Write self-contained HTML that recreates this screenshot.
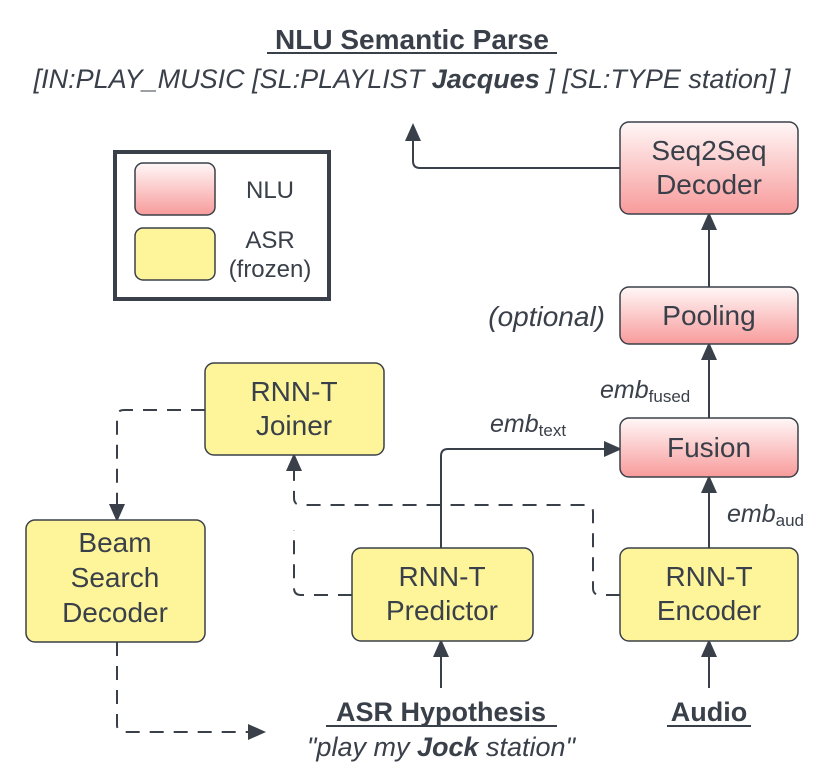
<!DOCTYPE html>
<html><head><meta charset="utf-8"><style>
html,body{margin:0;padding:0;background:#fff;}
svg{display:block;font-family:"Liberation Sans",sans-serif;}
</style></head><body>
<svg width="832" height="781" viewBox="0 0 832 781" xmlns="http://www.w3.org/2000/svg">
<defs>
<linearGradient id="r" x1="0" y1="0" x2="0" y2="1"><stop offset="0" stop-color="#fff7f7"/><stop offset="1" stop-color="#f89b9b"/></linearGradient>
<marker id="a" markerWidth="18" markerHeight="16" refX="16" refY="8" orient="auto" markerUnits="userSpaceOnUse"><path d="M0,0 L18,8 L0,16 z" fill="#3a4049"/></marker>
</defs>
<g fill="#3a4049" text-anchor="middle">
<text x="412" y="49" font-size="28" font-weight="bold">NLU Semantic Parse</text>
<rect x="267" y="52" width="290" height="2"/>
<text x="412" y="88" font-size="27" font-style="italic">[IN:PLAY_MUSIC [SL:PLAYLIST <tspan font-weight="bold">Jacques</tspan> ] [SL:TYPE station] ]</text>
</g>
<rect x="115" y="152" width="214" height="147" fill="none" stroke="#3a4049" stroke-width="4"/>
<rect x="135" y="163" width="80" height="52" rx="8" fill="url(#r)" stroke="#3a4049" stroke-width="1.5"/>
<rect x="135" y="228" width="80" height="52" rx="8" fill="#fef59b" stroke="#3a4049" stroke-width="1.5"/>
<g fill="#3a4049" text-anchor="middle" font-size="24">
<text x="270" y="198">NLU</text><text x="270" y="248">ASR</text><text x="270" y="277">(frozen)</text>
</g>
<g stroke="#3a4049" stroke-width="2" fill="none">
<path d="M620,168 H420 Q413,168 413,161 V125" marker-end="url(#a)"/>
<path d="M709,287 V214" marker-end="url(#a)"/>
<path d="M709,418 V344" marker-end="url(#a)"/>
<path d="M709,548 V477" marker-end="url(#a)"/>
<path d="M441,548 V456 Q441,449 448,449 H620" marker-end="url(#a)"/>
<path d="M441,688 V641" marker-end="url(#a)"/>
<path d="M709,688 V641" marker-end="url(#a)"/>
<g stroke-dasharray="14,10">
<path d="M620,595 H600 Q593,595 593,588 V512 Q593,505 586,505 H301 Q294,505 294,498 V455" marker-end="url(#a)"/>
<path d="M352,595 H301 Q294,595 294,588 V530"/>
<path d="M205,410 H124 Q117,410 117,417 V520" marker-end="url(#a)"/>
<path d="M117,642 V725 Q117,732 124,732 H264" marker-end="url(#a)"/>
</g>
</g>
<g stroke="#3a4049" stroke-width="1.5">
<rect x="620" y="122" width="178" height="92" rx="9" fill="url(#r)"/>
<rect x="620" y="287" width="178" height="57" rx="9" fill="url(#r)"/>
<rect x="620" y="418" width="178" height="59" rx="9" fill="url(#r)"/>
<rect x="620" y="548" width="178" height="93" rx="9" fill="#fef59b"/>
<rect x="352" y="548" width="181" height="93" rx="9" fill="#fef59b"/>
<rect x="205" y="363" width="179" height="92" rx="9" fill="#fef59b"/>
<rect x="26" y="520" width="179" height="122" rx="9" fill="#fef59b"/>
</g>
<g fill="#3a4049" text-anchor="middle" font-size="28">
<text x="709" y="160">Seq2Seq</text><text x="709" y="194">Decoder</text>
<text x="709" y="325">Pooling</text>
<text x="709" y="457">Fusion</text>
<text x="709" y="586">RNN-T</text><text x="709" y="620">Encoder</text>
<text x="442" y="586">RNN-T</text><text x="442" y="620">Predictor</text>
<text x="294" y="401">RNN-T</text><text x="294" y="435">Joiner</text>
<text x="115" y="552">Beam</text><text x="115" y="587">Search</text><text x="115" y="622">Decoder</text>
</g>
<g fill="#3a4049" font-style="italic">
<text x="605" y="326" font-size="28" text-anchor="end">(optional)</text>
<text x="600" y="398" font-size="25">emb<tspan font-size="17" font-style="normal" dy="4">fused</tspan></text>
<text x="490" y="432" font-size="25">emb<tspan font-size="17" font-style="normal" dy="4">text</tspan></text>
<text x="727" y="522" font-size="25">emb<tspan font-size="17" font-style="normal" dy="4">aud</tspan></text>
</g>
<g fill="#3a4049" text-anchor="middle">
<text x="441" y="721" font-size="27" font-weight="bold">ASR Hypothesis</text>
<rect x="326" y="725" width="231" height="2"/>
<text x="441" y="756" font-size="27" font-style="italic">"play my <tspan font-weight="bold">Jock</tspan> station"</text>
<text x="709" y="721" font-size="27" font-weight="bold">Audio</text>
<rect x="667" y="725" width="84" height="2"/>
</g>
</svg>
</body></html>
